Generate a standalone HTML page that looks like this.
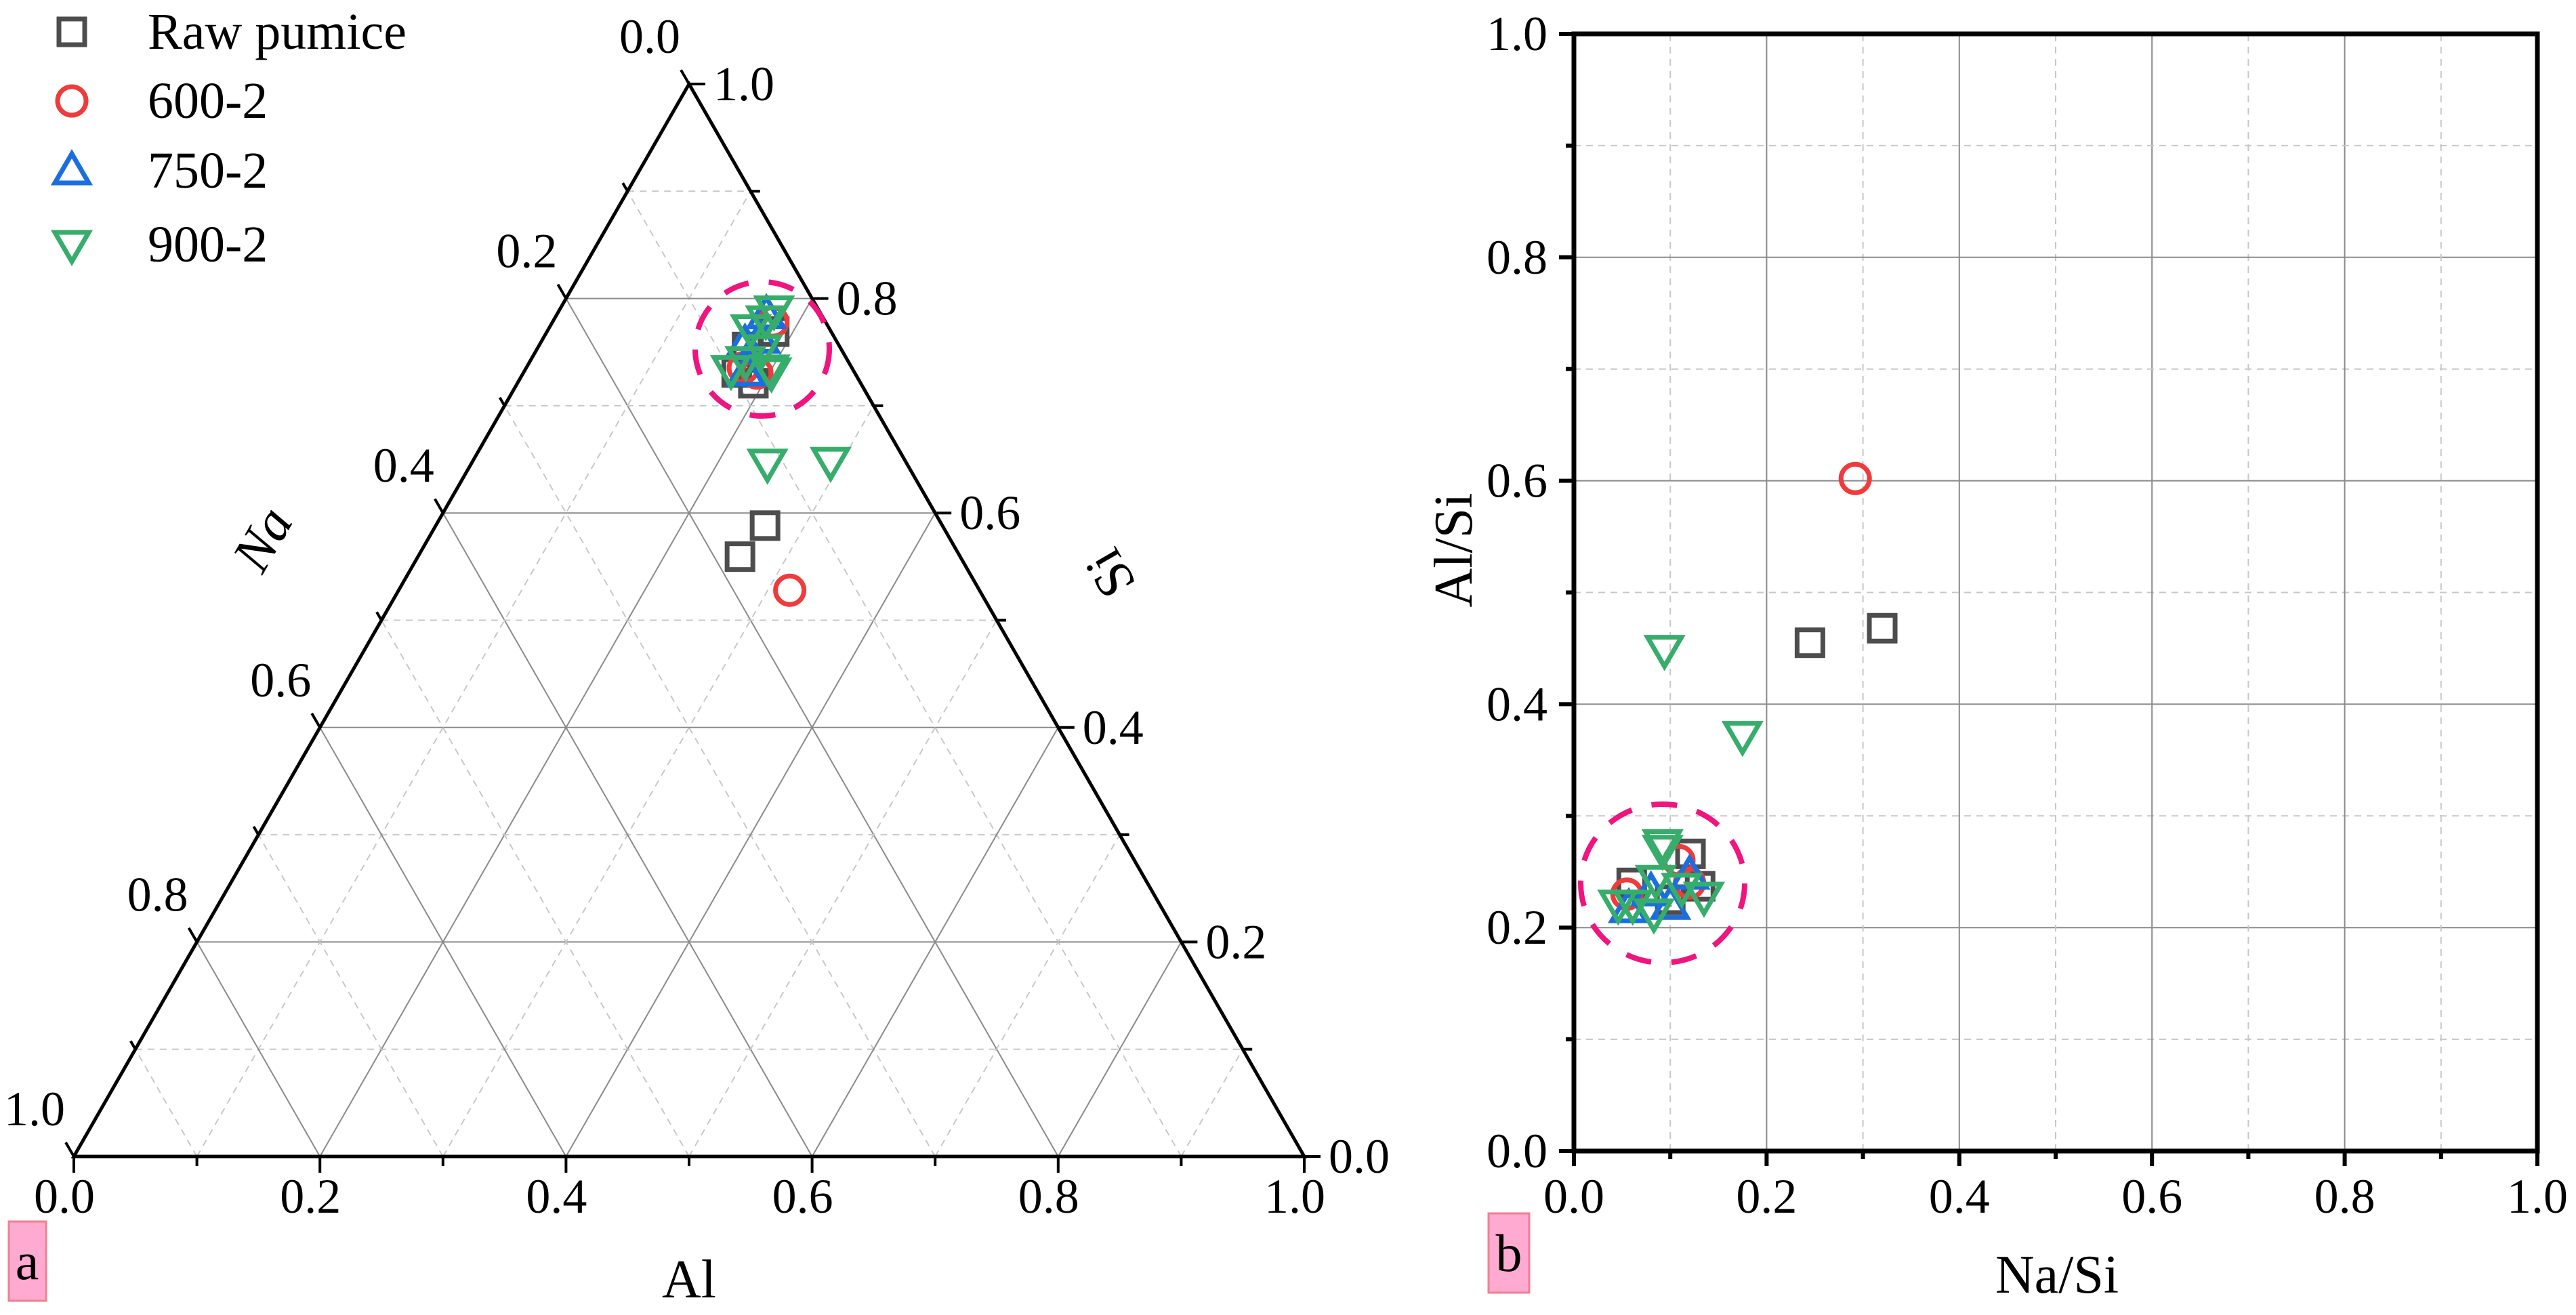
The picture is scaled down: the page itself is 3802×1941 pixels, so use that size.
<!DOCTYPE html>
<html><head><meta charset="utf-8">
<style>
html,body{margin:0;padding:0;background:#fff;}
svg, svg text{font-family:"Liberation Serif","DejaVu Serif",serif;}
</style></head>
<body>
<svg id="fig" width="3802" height="1936" viewBox="0 0 3802 1936" xmlns="http://www.w3.org/2000/svg" font-family="Liberation Serif, DejaVu Serif, serif">
<g id="gA"></g>
<g id="gB"></g>
<g id="legend"></g>
</svg>
<script>
// ---- data (Na/Si, Al/Si ratios per sample) ----
const seriesNames = ["Raw pumice","600-2","750-2","900-2"];
const rawNaSi = [0.245,0.320,0.121,0.060,0.131,0.100];
const rawAlSi = [0.455,0.468,0.266,0.240,0.237,0.225];
const c600NaSi = [0.292,0.109,0.055,0.120];
const c600AlSi = [0.602,0.260,0.230,0.240];
const c750NaSi = [0.120,0.100,0.057,0.080];
const c750AlSi = [0.247,0.220,0.217,0.232];
const c900NaSi = [0.094,0.175,0.092,0.092,0.085,0.061,0.046,0.083,0.112,0.135];
const c900AlSi = [0.449,0.372,0.270,0.275,0.243,0.221,0.221,0.213,0.236,0.228];
const ticks = [0,0.2,0.4,0.6,0.8,1.0];
const tickLabels = ["0.0","0.2","0.4","0.6","0.8","1.0"];

const NS="http://www.w3.org/2000/svg";
function mk(tag,attrs,parent){const e=document.createElementNS(NS,tag);for(const k in attrs)e.setAttribute(k,attrs[k]);parent.appendChild(e);return e;}
const gA=document.getElementById('gA'), gB=document.getElementById('gB'), leg=document.getElementById('legend');
const colors=["#4d4d4d","#ef3b3b","#1a6fdf","#37ad6b"];
const shapes=["square","circle","up","down"];

function marker(shape,color,cx,cy,parent){
  let e;
  if(shape==="square") e=mk('rect',{x:cx-19,y:cy-19,width:38,height:38,fill:'none',stroke:color,'stroke-width':7},parent);
  else if(shape==="circle") e=mk('circle',{cx:cx,cy:cy,r:21,fill:'none',stroke:color,'stroke-width':7},parent);
  else if(shape==="up") e=mk('polygon',{points:`${cx},${cy-25} ${cx-25},${cy+18} ${cx+25},${cy+18}`,fill:'none',stroke:color,'stroke-width':7},parent);
  else e=mk('polygon',{points:`${cx},${cy+25} ${cx-25},${cy-18} ${cx+25},${cy-18}`,fill:'none',stroke:color,'stroke-width':7},parent);
  return e;
}
function txt(s,x,y,size,anchor,parent,extra){const t=mk('text',Object.assign({x:x,y:y,'font-size':size,'text-anchor':anchor||'start',fill:'#000','font-family':'Liberation Serif, DejaVu Serif, serif'},extra||{}),parent);t.textContent=s;return t;}

// ---------- Ternary (a) ----------
const xL=109, base=1707, W=1816, H=1583;
function tx(al,si){return xL+W*(al+si/2);}
function ty(si){return base-H*si;}
for(let i=1;i<10;i++){
  const v=i/10, major=(i%2===0);
  const st=major?{stroke:'#8a8a8a','stroke-width':2}:{stroke:'#c8c8c8','stroke-width':2,'stroke-dasharray':'10,8'};
  let l=mk('line',Object.assign({x1:tx(0,v),y1:ty(v),x2:tx(1-v,v),y2:ty(v)},st),gA);
  
  
  l=mk('line',Object.assign({x1:tx(v,0),y1:ty(0),x2:tx(v,1-v),y2:ty(1-v)},st),gA);
  
  
  l=mk('line',Object.assign({x1:tx(1-v,0),y1:ty(0),x2:tx(0,1-v),y2:ty(1-v)},st),gA);
  
  
}
let tri=mk('polygon',{points:`${tx(0,0)},${ty(0)} ${tx(1,0)},${ty(0)} ${tx(0,1)},${ty(1)}`,fill:'none',stroke:'#000','stroke-width':5},gA);


for(let i=0;i<=10;i++){
  const v=i/10, len=(i%2===0)?24:14;
  let t=mk('line',{x1:tx(v,0),y1:ty(0),x2:tx(v,0),y2:ty(0)+len,stroke:'#000','stroke-width':4},gA);
  
  
  t=mk('line',{x1:tx(1-v,v),y1:ty(v),x2:tx(1-v,v)+len,y2:ty(v),stroke:'#000','stroke-width':4},gA);
  
  
  const na=v, si=1-na;
  t=mk('line',{x1:tx(0,si),y1:ty(si),x2:tx(0,si)-len*0.5,y2:ty(si)-len*0.866,stroke:'#000','stroke-width':4},gA);
  
  
}
ticks.forEach((v,i)=>{
  let t=txt(tickLabels[i],tx(v,0)-14,1790,72,'middle',gA);
  
  
  t=txt(tickLabels[i],tx(1-v,v)+36,ty(v)+24,72,'start',gA);
  
  
  const si=1-v;
  t=txt(tickLabels[i],tx(0,si)-58,ty(si)-46,72,'middle',gA);
  
  
});
let at=txt('Al',1017,1915,80,'middle',gA);


at=txt('Na',0,0,80,'middle',gA,{transform:'translate(388,796) rotate(-60) translate(0,26)','font-style':'italic'});


at=txt('Si',0,0,80,'middle',gA,{transform:'translate(1639,846) rotate(-120) translate(0,26)'});



// ---------- Cartesian (b) ----------
const bx0=2323,bx1=3745,by0=1699,by1=50;
function bx(v){return bx0+(bx1-bx0)*v;}
function by(v){return by0-(by0-by1)*v;}
for(let i=1;i<10;i++){
  const v=i/10, major=(i%2===0);
  const st=major?{stroke:'#8a8a8a','stroke-width':2}:{stroke:'#c8c8c8','stroke-width':2,'stroke-dasharray':'10,8'};
  let l=mk('line',Object.assign({x1:bx(v),y1:by0,x2:bx(v),y2:by1},st),gB);
  
  
  l=mk('line',Object.assign({x1:bx0,y1:by(v),x2:bx1,y2:by(v)},st),gB);
  
  
}
let fr=mk('rect',{x:bx0,y:by1,width:bx1-bx0,height:by0-by1,fill:'none',stroke:'#000','stroke-width':7},gB);


for(let i=0;i<=10;i++){
  const v=i/10,len=(i%2===0)?22:12;
  let t=mk('line',{x1:bx(v),y1:by0,x2:bx(v),y2:by0+len,stroke:'#000','stroke-width':6},gB);
  
  
  t=mk('line',{x1:bx0,y1:by(v),x2:bx0-len,y2:by(v),stroke:'#000','stroke-width':6},gB);
  
  
}
ticks.forEach((v,i)=>{
  let t=txt(tickLabels[i],bx(v),1790,72,'middle',gB);
  
  
  t=txt(tickLabels[i],2284,by(v)+24,72,'end',gB);
  
  
});
at=txt('Na/Si',3036,1908,80,'middle',gB);


at=txt('Al/Si',0,0,80,'middle',gB,{transform:'translate(2146,812) rotate(-90) translate(0,26)'});



// ---------- points ----------
const seriesNa=[rawNaSi,c600NaSi,c750NaSi,c900NaSi];
const seriesAl=[rawAlSi,c600AlSi,c750AlSi,c900AlSi];
[0,1,2,3].forEach(s=>{
  seriesNa[s].forEach((a,j)=>{
    const b=seriesAl[s][j];
    const si=1/(1+a+b), al=b*si;
    let m=marker(shapes[s],colors[s],tx(al,si),ty(si),gA);
    
    
    m=marker(shapes[s],colors[s],bx(a),by(b),gB);
    
    
  });
});
let hc=mk('circle',{cx:1125,cy:515,r:99,fill:'none',stroke:'#f0147f','stroke-width':8,'stroke-dasharray':'38,30'},gA);


hc=mk('ellipse',{cx:2454,cy:1304,rx:121,ry:117,fill:'none',stroke:'#f0147f','stroke-width':8,'stroke-dasharray':'38,30'},gB);



let pl=mk('rect',{x:13,y:1803,width:55,height:117,fill:'#ffaad0',stroke:'#f08090','stroke-width':3},gA);


pl=txt('a',40,1888,78,'middle',gA);


pl=mk('rect',{x:2197,y:1791,width:60,height:117,fill:'#ffaad0',stroke:'#f08090','stroke-width':3},gB);


pl=txt('b',2227,1876,78,'middle',gB);



const legY=[47,149,252,361];
seriesNames.forEach((n,i)=>{
  let m=marker(shapes[i],colors[i],106,legY[i],leg);
  
  
  let t=txt(n,218,legY[i]+25,76,'start',leg);
  
  
});
</script>
</body></html>
